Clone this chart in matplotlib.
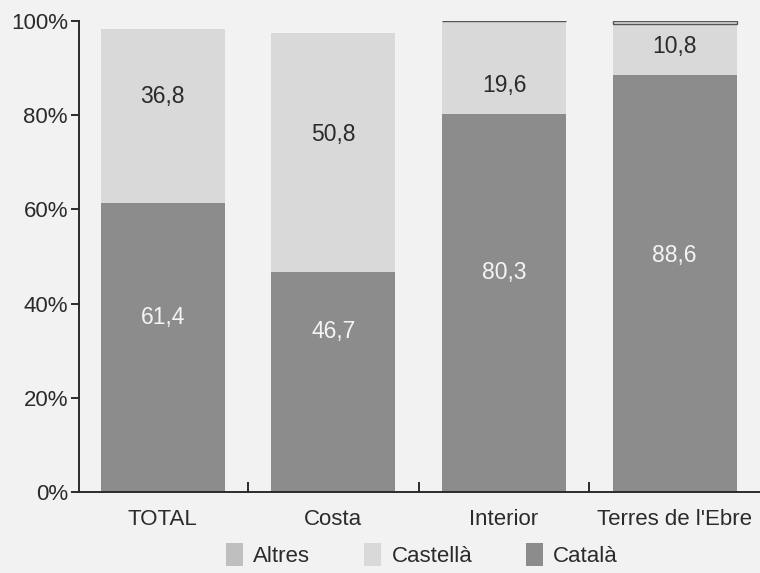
import matplotlib
matplotlib.use("Agg")
import matplotlib.pyplot as plt
from matplotlib.patches import Patch
from matplotlib.ticker import FixedLocator

plt.rcParams['font.family'] = ['Liberation Sans', 'DejaVu Sans']

categories = ["TOTAL", "Costa", "Interior", "Terres de l'Ebre"]
catala = [61.4, 46.7, 80.3, 88.6]
castella = [36.8, 50.8, 19.6, 10.8]
altres = [1.8, 2.5, 0.1, 0.6]
yticks = [0, 20, 40, 60, 80, 100]
ytick_labels = ["0%", "20%", "40%", "60%", "80%", "100%"]

# label heights inside each segment (layout only)
catala_label_y = [37, 34, 46.7, 50.2]
castella_label_y = [84, 76, 86.3, 94.5]

bg = "#f2f2f2"
c_catala = "#8c8c8c"
c_castella = "#d9d9d9"
c_altres = "#bfbfbf"
ink = "#2b2b2b"

fig = plt.figure(figsize=(7.6, 5.73), dpi=100, facecolor=bg)
ax = fig.add_axes([0.104, 0.1414, 0.896, 0.822], facecolor=bg)

x = list(range(len(categories)))
w = 0.725
ax.bar(x, catala, width=w, color=c_catala, linewidth=0)
ax.bar(x, castella, width=w, bottom=catala, color=c_castella, linewidth=0)
bottom2 = [a + b for a, b in zip(catala, castella)]
# the "Altres" sliver: faded out on the first two bars, thin outline on the others
for i in x:
    if i < 2:
        ax.bar(i, altres[i], width=w, bottom=bottom2[i], color=bg, linewidth=0)
    else:
        ax.bar(i, altres[i], width=w, bottom=bottom2[i], color=c_castella,
               edgecolor="#555555", linewidth=1.0)

for i in x:
    ax.text(i, catala_label_y[i], f"{catala[i]:.1f}".replace(".", ","),
            ha="center", va="center", fontsize=16.5, color="#f4f4f4")
    ax.text(i, castella_label_y[i], f"{castella[i]:.1f}".replace(".", ","),
            ha="center", va="center", fontsize=16.5, color=ink)

ax.set_xlim(-0.49, 3.5)
ax.set_ylim(0, 100)
ax.set_yticks(yticks)
ax.set_yticklabels(ytick_labels, fontsize=16, color=ink)
ax.set_xticks(x)
ax.set_xticklabels(categories, fontsize=16, color=ink)
ax.tick_params(axis="x", length=0, pad=12)
ax.tick_params(axis="y", direction="out", length=6, width=1.4, color=ink, pad=2)
ax.xaxis.set_minor_locator(FixedLocator([0.5, 1.5, 2.5]))
ax.tick_params(axis="x", which="minor", direction="in", length=7, width=1.4, color=ink)

for s in ["top", "right"]:
    ax.spines[s].set_visible(False)
for s in ["left", "bottom"]:
    ax.spines[s].set_color(ink)
    ax.spines[s].set_linewidth(1.4)

handles = [Patch(facecolor=c_altres, label="Altres"),
           Patch(facecolor=c_castella, label="Castellà"),
           Patch(facecolor=c_catala, label="Català")]
fig.legend(handles=handles, loc="center", bbox_to_anchor=(0.555, 0.031), ncol=3,
           frameon=False, fontsize=16, handlelength=0.8, handleheight=1.15,
           columnspacing=2.4, handletextpad=0.45, labelcolor=ink)

fig.savefig("out.png", dpi=100, facecolor=bg)
